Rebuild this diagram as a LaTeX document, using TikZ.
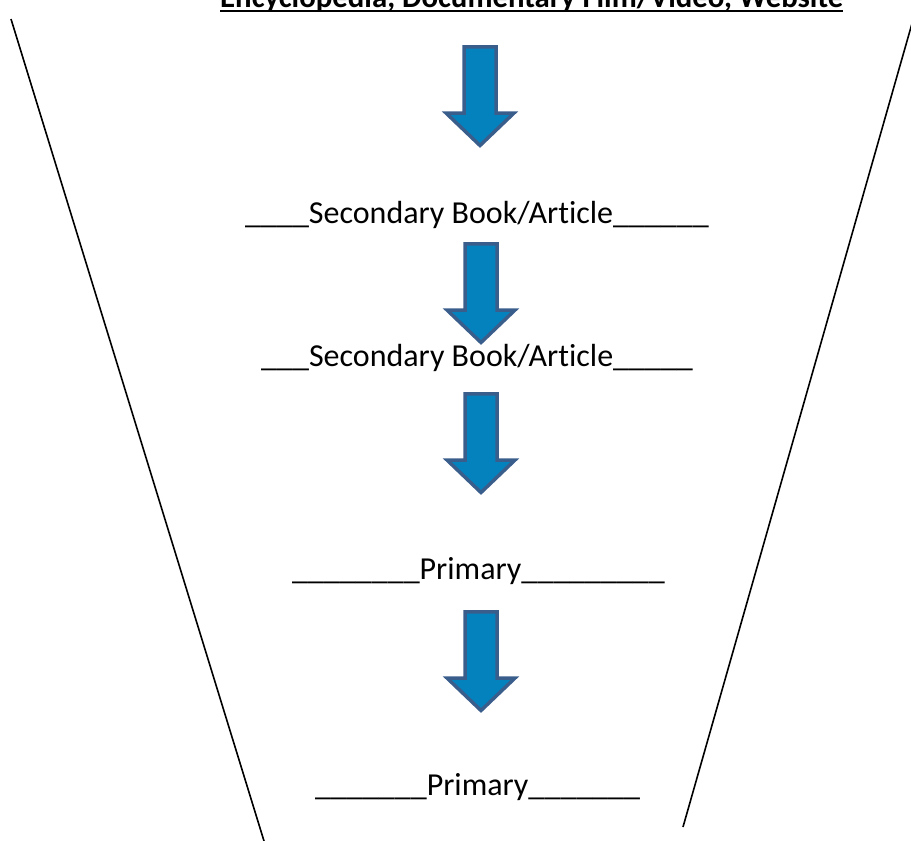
\documentclass[tikz,border=0pt]{standalone}
\usepackage{fontspec}
\setmainfont[Ligatures={NoCommon}]{Carlito}
\definecolor{arrowfill}{RGB}{4,130,190}
\definecolor{arrowline}{RGB}{58,94,140}
\tikzset{
  x=1pt, y=-1pt,
  lbl/.style={anchor=base west, inner sep=0pt, font=\fontsize{32}{38}\selectfont},
  ttl/.style={anchor=base west, inner sep=0pt, font=\fontsize{30.8}{38}\selectfont\bfseries},
  funnel/.style={line width=1.6pt, black},
  blockarrow/.pic={
    \draw[line width=3.5pt, arrowline, fill=arrowfill, line join=miter]
      (-16,1.8) -- (16,1.8) -- (16,68) -- (34,68) -- (0,100.5) -- (-34,68) -- (-16,68) -- cycle;
  }
}
\begin{document}
\begin{tikzpicture}
\useasboundingbox (0,0) rectangle (911,841);
% title
\node[ttl] (title) at (220,7) {Encyclopedia, Documentary Film/Video, Website};
\draw[line width=2.5pt] ([yshift=-4pt]title.base west) -- ([yshift=-4pt]title.base east);
% funnel sides
\coordinate (ltop) at (11,19);
\coordinate (lbot) at (264,841);
\coordinate (rtop) at (913,20);
\coordinate (rbot) at (683,827);
\draw[funnel] (ltop) -- (lbot);
\draw[funnel] (rtop) -- (rbot);
% arrows
\pic at (480,45) {blockarrow};
\pic at (481,242) {blockarrow};
\pic at (481,392) {blockarrow};
\pic at (481,610) {blockarrow};
% labels
\node[lbl] (s1) at (245,223) {\_\_\_\_Secondary Book/Article\_\_\_\_\_\_};
\node[lbl] (s2) at (261,366) {\_\_\_Secondary Book/Article\_\_\_\_\_};
\node[lbl] (p1) at (292,579) {\_\_\_\_\_\_\_\_Primary\_\_\_\_\_\_\_\_\_};
\node[lbl] (p2) at (315,795) {\_\_\_\_\_\_\_Primary\_\_\_\_\_\_\_};
\end{tikzpicture}
\end{document}
